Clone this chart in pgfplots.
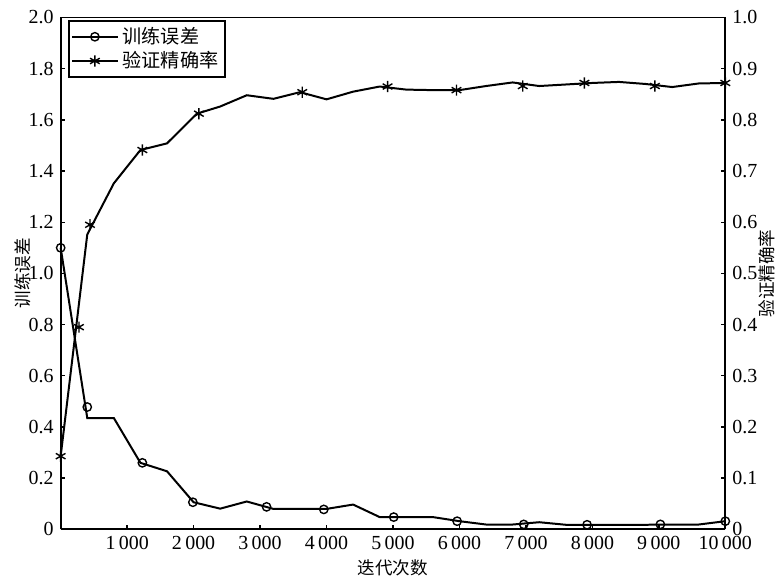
\documentclass[border=0pt]{standalone}
\usepackage{pgfplots}
\usepackage{pgfplotstable}
\pgfplotsset{compat=1.18}
\usetikzlibrary{plotmarks}
\usepackage{fontspec}
\setmainfont{Liberation Serif}
\newfontfamily\cjk{Noto Sans CJK SC}

\pgfplotstableread{
x y
0 1.10
400 0.435
800 0.435
1200 0.26
1600 0.227
2000 0.106
2400 0.081
2800 0.109
3200 0.080
3600 0.080
4000 0.080
4400 0.097
4800 0.048
5200 0.048
5600 0.048
6000 0.032
6400 0.019
6800 0.019
7200 0.028
7600 0.018
8000 0.018
8400 0.018
8800 0.018
9200 0.019
9600 0.019
10000 0.032
}\lossline
\pgfplotstableread{
x y
0 1.10
400 0.478
1229 0.26
1989 0.106
3098 0.088
3959 0.078
5011 0.048
5965 0.032
6967 0.0195
7920 0.018
9023 0.0195
10000 0.032
}\lossmarks
\pgfplotstableread{
x y
0 0.143
400 0.576
800 0.676
1200 0.741
1600 0.754
2050 0.812
2400 0.826
2800 0.848
3200 0.841
3600 0.854
4000 0.840
4400 0.855
4800 0.865
5200 0.859
5600 0.858
6000 0.858
6400 0.866
6800 0.873
7200 0.866
7600 0.869
8000 0.872
8400 0.874
8800 0.870
9200 0.864
9600 0.871
10000 0.872
}\accline
\pgfplotstableread{
x y
0 0.143
275 0.395
441 0.595
1229 0.741
2080 0.812
3635 0.854
4918 0.865
5955 0.858
6952 0.866
7880 0.872
8940 0.866
10000 0.872
}\accmarks

\pgfplotsset{
  common/.style={
    scale only axis, width=333pt, height=256.5pt,
    xmin=0, xmax=10000,
    tick align=inside,
    major tick length=2.2pt,
    axis line style={line width=0.9pt},
    every tick/.style={black, line width=0.7pt},
    tick label style={font=\fontsize{10}{11}\selectfont},
    /pgf/number format/assume math mode=true,
    label style={font=\cjk\fontsize{8.8}{10}\selectfont},
    clip=false,
  }
}

\begin{document}
\begin{tikzpicture}
\begin{axis}[common,
  ymin=0, ymax=2,
  axis y line*=left,
  xtick pos=bottom,
  scaled x ticks=false,
  xtick={1000,2000,3000,4000,5000,6000,7000,8000,9000,10000},
  xticklabels={1\,000,2\,000,3\,000,4\,000,5\,000,6\,000,7\,000,8\,000,9\,000,10\,000},
  ytick={0,0.2,0.4,0.6,0.8,1.0,1.2,1.4,1.6,1.8,2.0},
  yticklabels={0,0.2,0.4,0.6,0.8,1.0,1.2,1.4,1.6,1.8,2.0},
  xlabel={迭代次数},
  ylabel={训练误差},
  xlabel style={yshift=2pt},
  ylabel style={yshift=-8pt},
  legend style={at={(rel axis cs:0.011,0.995)}, anchor=north west,
    draw=black, line width=0.8pt, font=\cjk\fontsize{9.6}{10.5}\selectfont,
    inner sep=1.2pt, row sep=-1.5pt, cells={anchor=west}},
  legend image code/.code={\draw[mark repeat=2,mark phase=2] plot coordinates {(0cm,0cm)(0.4cm,0cm)(0.8cm,0cm)};},
]
\addlegendimage{black, line width=1pt, mark=o, mark size=2.1pt, mark options={line width=0.7pt}}
\addlegendentry{训练误差}
\addlegendimage{black, line width=1pt, mark=asterisk, mark size=2.8pt, mark options={line width=0.7pt}}
\addlegendentry{验证精确率}
\addplot[black, line width=1pt, forget plot] table {\lossline};
\addplot[black, only marks, mark=o, mark size=2.1pt, mark options={line width=0.7pt}, forget plot] table {\lossmarks};
\end{axis}
\begin{axis}[common,
  ymin=0, ymax=1,
  axis y line*=right,
  axis x line=none,
  ytick={0,0.1,0.2,0.3,0.4,0.5,0.6,0.7,0.8,0.9,1.0},
  yticklabels={0,0.1,0.2,0.3,0.4,0.5,0.6,0.7,0.8,0.9,1.0},
  ylabel={验证精确率},
  ylabel style={yshift=6pt},
]
\addplot[black, line width=1pt] table {\accline};
\addplot[black, only marks, mark=asterisk, mark size=2.8pt, mark options={line width=0.7pt}] table {\accmarks};
\end{axis}
\path ([yshift=2pt]current bounding box.north);
\path ([xshift=-4pt]current bounding box.west);
\end{tikzpicture}
\end{document}
